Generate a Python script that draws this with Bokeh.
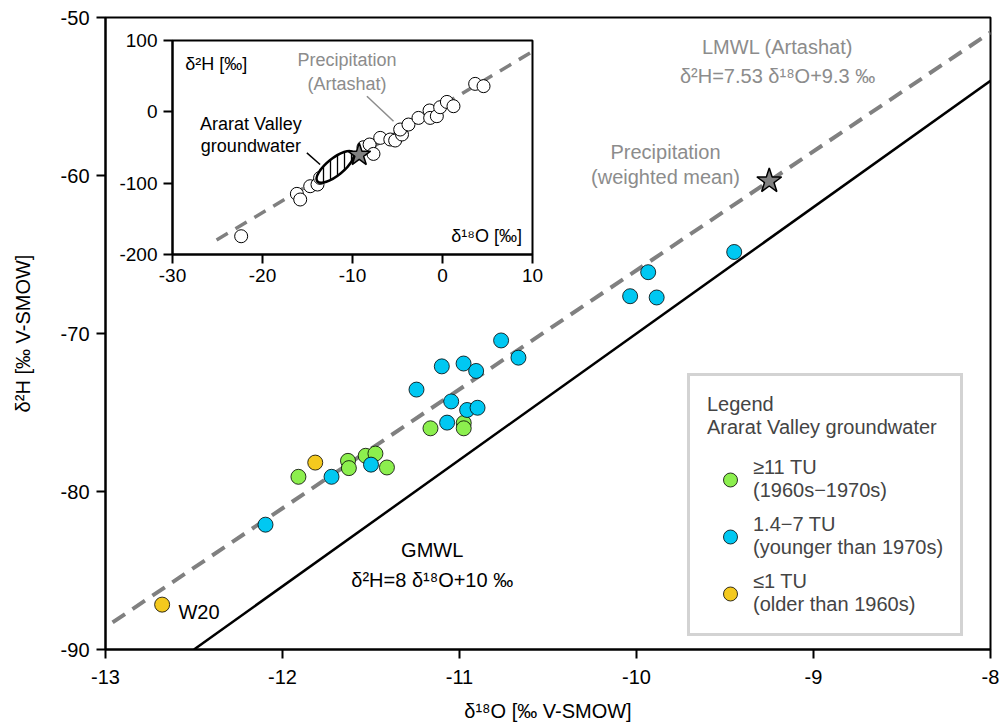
from bokeh.plotting import figure
from bokeh.models import Range1d, FixedTicker, Legend, LegendItem
from bokeh.layouts import column
from bokeh.embed import file_html
from bokeh.resources import INLINE
from bokeh.core.properties import value

FONT = "Liberation Sans"

# ---------------- data (main panel) ----------------
green_x = [-11.91, -11.63, -11.625, -11.53, -11.475, -11.41, -11.164, -10.976, -10.976]
green_y = [-79.07, -78.06, -78.52, -77.74, -77.60, -78.48, -76.00, -75.66, -76.00]

blue_x = [-12.096, -11.723, -11.50, -11.243, -11.10, -10.977, -10.906, -11.047, -10.957,
          -10.898, -11.07, -10.765, -10.667, -9.934, -10.036, -9.886, -9.448]
blue_y = [-82.10, -79.07, -78.30, -73.55, -72.08, -71.90, -72.37, -74.30, -74.84,
          -74.70, -75.64, -70.44, -71.53, -66.12, -67.64, -67.72, -64.84]

yellow_x = [-12.68, -11.815]
yellow_y = [-87.16, -78.17]

star_x = [-9.25]
star_y = [-60.35]

# LMWL: d2H = 7.53 d18O + 9.3 ; GMWL: d2H = 8 d18O + 10
lmwl_x = [-12.96, -8.0]
lmwl_y = [7.53 * v + 9.3 for v in lmwl_x]
gmwl_x = [-12.5, -8.0]
gmwl_y = [8 * v + 10 for v in gmwl_x]

x_ticks = [-13, -12, -11, -10, -9, -8]
y_ticks = [-90, -80, -70, -60, -50]

# ---------------- data (inset) ----------------
inset_x = [-22.37, -16.18, -15.81, -14.70, -13.89, -13.60, -8.78, -8.10, -7.67, -6.92,
           -5.80, -5.26, -4.50, -4.70, -3.78, -2.67, -1.44, -1.37, -0.63, -0.26,
           0.49, 1.22, 3.63, 4.56]
inset_y = [-174.4, -115.0, -122.9, -104.3, -101.9, -92.6, -49.6, -45.8, -59.0, -36.5,
           -38.8, -40.2, -31.8, -24.8, -17.8, -8.5, 1.9, -8.5, -6.1, 6.5,
           13.9, 7.9, 39.2, 36.0]
inset_line_x = [-25.1, 10.0]
inset_line_y = [7.53 * v + 9.3 for v in inset_line_x]
ellipse_x = [-11.92]
ellipse_y = [-77.2]
inset_x_ticks = [-30, -20, -10, 0, 10]
inset_y_ticks = [-200, -100, 0, 100]

GREEN = "#8CEF4E"
BLUE = "#00C8F2"
YELLOW = "#F4C91E"
GRAY = "#808080"
TGRAY = "#8C8C8C"

BORDER_L = 105
BORDER_R = 12


def style_axes(fig, fs, xt, yt):
    for ax in (fig.xaxis[0], fig.yaxis[0]):
        ax.axis_line_width = 2
        ax.axis_line_color = "black"
        ax.major_tick_line_width = 2
        ax.major_tick_out = 9
        ax.major_tick_in = 0
        ax.minor_tick_out = 0
        ax.minor_tick_in = 0
        ax.major_label_text_font = FONT
        ax.major_label_text_font_size = fs
        ax.major_label_text_color = "black"
        ax.axis_label_text_font = FONT
        ax.axis_label_text_font_size = "20px"
        ax.axis_label_text_font_style = "normal"
        ax.axis_label_text_color = "black"
    fig.xaxis.ticker = FixedTicker(ticks=xt)
    fig.yaxis.ticker = FixedTicker(ticks=yt)
    fig.xaxis.major_label_overrides = {t: str(t) for t in xt}
    fig.yaxis.major_label_overrides = {t: str(t) for t in yt}
    fig.xgrid.visible = False
    fig.ygrid.visible = False
    fig.outline_line_color = "black"
    fig.outline_line_width = 2
    fig.outline_line_alpha = 1


# ---------------- main figure ----------------
p = figure(frame_width=885, frame_height=632, x_range=Range1d(-13, -8), y_range=Range1d(-90, -50),
           output_backend="svg", toolbar_location=None,
           min_border_left=BORDER_L, min_border_right=BORDER_R, min_border_top=17, min_border_bottom=75,
           x_axis_label="δ¹⁸O [‰ V-SMOW]", y_axis_label="δ²H [‰ V-SMOW]")
style_axes(p, "20px", x_ticks, y_ticks)
p.xaxis.major_label_standoff = 11
p.xaxis.axis_label_standoff = 13
p.yaxis.major_label_standoff = 7
p.yaxis.axis_label_standoff = 24

p.line(lmwl_x, lmwl_y, line_color=GRAY, line_width=4, line_dash="15 9")
p.line(gmwl_x, gmwl_y, line_color="black", line_width=2.5)

rg = p.scatter(green_x, green_y, size=15, fill_color=GREEN, line_color="black", line_width=0.8)
rb = p.scatter(blue_x, blue_y, size=15, fill_color=BLUE, line_color="black", line_width=0.8)
ry = p.scatter(yellow_x, yellow_y, size=15, fill_color=YELLOW, line_color="black", line_width=0.8)
p.scatter(star_x, star_y, marker="star", size=26, fill_color=GRAY, line_color="black", line_width=1.5)

txt = dict(text_font=value(FONT), text_font_size=value("20px"))
p.text(x=[-9.203], y=[-52.79], text=["LMWL (Artashat)\nδ²H=7.53 δ¹⁸O+9.3 ‰"], text_align="center",
       text_baseline="middle", text_color=TGRAY, text_line_height=1.3, **txt)
p.text(x=[-9.836], y=[-59.32], text=["Precipitation\n(weighted mean)"], text_align="center",
       text_baseline="middle", text_color=TGRAY, text_line_height=1.15, **txt)
p.text(x=[-11.154], y=[-84.65], text=["GMWL\nδ²H=8 δ¹⁸O+10 ‰"], text_align="center",
       text_baseline="middle", text_color="black", text_line_height=1.35, **txt)
p.text(x=[-12.588], y=[-87.6], text=["W20"], text_align="left", text_baseline="middle",
       text_color="black", **txt)

legend = Legend(
    items=[LegendItem(label="≥11 TU\n(1960s−1970s)", renderers=[rg]),
           LegendItem(label="1.4−7 TU\n(younger than 1970s)", renderers=[rb]),
           LegendItem(label="≤1 TU\n(older than 1960s)", renderers=[ry])],
    location=(582, 13), title="Legend\nArarat Valley groundwater",
    title_text_font=FONT, title_text_font_size="20px", title_text_font_style="normal",
    title_standoff=17,
    label_text_font=FONT, label_text_font_size="20px",
    border_line_color="#A8A8A8", border_line_width=3, background_fill_color="white",
    background_fill_alpha=1, padding=17, spacing=11, glyph_width=46, glyph_height=35,
    label_standoff=0, margin=0)
p.add_layout(legend)

# ---------------- inset figure ----------------
ins = figure(frame_width=360, frame_height=214, x_range=Range1d(-30, 10), y_range=Range1d(-200, 100),
             output_backend="svg", toolbar_location=None,
             min_border_left=BORDER_L, min_border_right=BORDER_R, min_border_top=20, min_border_bottom=40,
             background_fill_color="white", border_fill_alpha=0,
             styles={"position": "absolute", "left": f"{172 - BORDER_L}px", "top": "20px"})
style_axes(ins, "19px", inset_x_ticks, inset_y_ticks)
ins.xaxis.major_label_standoff = 5
ins.yaxis.major_label_standoff = 6

ins.line(inset_line_x, inset_line_y, line_color=GRAY, line_width=3.5, line_dash="13 9")
ins.scatter(inset_x, inset_y, size=13, fill_color="white", line_color="black", line_width=1)
ins.ellipse(ellipse_x, ellipse_y, width=46, height=17, angle=0.68, width_units="screen",
            height_units="screen", fill_color="white", line_color="black", line_width=2.5,
            hatch_pattern="vertical_line", hatch_color="black", hatch_weight=1.3, hatch_scale=7)
ins.scatter(star_x, star_y, marker="star", size=24, fill_color=GRAY, line_color="black", line_width=1.5)

ins.line([-8.4, -5.44], [21.9, -13.1], line_color=TGRAY, line_width=1.5)
ins.line([-15.07, -13.6], [-57.6, -73.8], line_color="black", line_width=1.5)

itxt = dict(text_font=value(FONT), text_font_size=value("18px"))
ins.text(x=[-28.59], y=[66.4], text=["δ²H [‰]"], text_align="left", text_baseline="middle",
         text_color="black", **itxt)
ins.text(x=[8.82], y=[-174.4], text=["δ¹⁸O [‰]"], text_align="right", text_baseline="middle",
         text_color="black", **itxt)
ins.text(x=[-10.62], y=[55.8], text=["Precipitation\n(Artashat)"], text_align="center",
         text_baseline="middle", text_color=TGRAY, text_line_height=1.2, **itxt)
ins.text(x=[-21.29], y=[-31.8], text=["Ararat Valley\ngroundwater"], text_align="center",
         text_baseline="middle", text_color="black", text_line_height=1.1, **itxt)

layout = column(p, ins, styles={"position": "relative"})

with open("out.html", "w") as f:
    f.write(file_html(layout, INLINE))
